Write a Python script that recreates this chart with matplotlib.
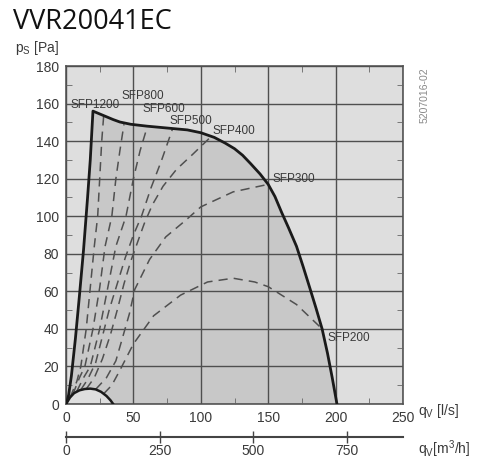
import matplotlib
matplotlib.use('Agg')
from matplotlib import pyplot as plt
from matplotlib.ticker import MultipleLocator

# fan curve, q in l/s, p in Pa
OUTER_Q = [0, 1, 2, 4, 7, 10, 13, 16, 18, 20, 25, 30, 35, 40, 48, 60, 75, 90, 100, 110,
           118, 125, 131, 137, 144, 150, 155, 160, 165, 171, 176, 181, 185.5, 190, 194,
           197.5, 201]
OUTER_P = [0, 2, 5, 15, 35, 58, 82, 110, 130, 156, 154.5, 153, 151.5, 150.2, 149, 148,
           147, 146, 144.5, 142, 139, 136, 132.5, 128, 122.5, 117, 110.5, 102, 94, 84, 73,
           61.5, 51, 40, 27, 14, 0]

ARC_Q = [0, 3, 6, 10, 14, 18, 22, 26, 30, 33, 35]
ARC_P = [0, 3.5, 5.8, 7.3, 8, 8.2, 7.8, 6.5, 4.3, 2, 0]

SFP_LINES = {
    'SFP800': ([3, 8, 11, 15, 18, 21, 23.5, 25, 26.5, 28],
               [3.5, 12, 20, 40, 62, 84, 100, 120, 140, 154]),
    'SFP700': ([5, 10, 14, 20, 25, 29, 34, 37, 40, 43],
               [5, 14, 20, 40, 62, 84, 100, 120, 135, 149]),
    'SFP600': ([8, 13, 18, 25, 31, 37, 44.5, 50, 55, 60],
               [6.8, 14, 20, 40, 62, 84, 100, 120, 135, 147]),
    'SFP500': ([11, 16, 22, 27, 32, 38, 44, 50, 56, 63, 71, 79],
               [7.6, 13, 22, 36, 50, 64, 78, 90, 100, 115, 130, 146.5]),
    'SFP400': ([15, 21, 27, 33, 38, 43, 48, 53, 58, 64, 72, 82, 94, 107],
               [8, 14, 24, 37, 50, 64, 76, 86, 96, 106, 116, 125, 133, 142]),
    'SFP300': ([22, 30, 37, 43, 47, 51, 62, 74, 89, 100, 124, 150],
               [7.8, 14, 23, 38, 48, 61, 77, 89, 98, 105, 113, 117]),
    'SFP200': ([28, 34, 40, 50, 65, 85, 105, 124, 140, 150, 171, 190],
               [5.5, 10, 18, 32, 47, 58, 65, 67, 65, 62.5, 53, 40]),
}

LABELS = ['SFP1200', 'SFP800', 'SFP600', 'SFP500', 'SFP400', 'SFP300', 'SFP200']
LABEL_Q = [3, 41.5, 56.5, 77, 109, 153, 194]
LABEL_P = [159, 164, 157, 150.7, 145.6, 120, 35]

M3H_TICKS = [0, 250, 500, 750]

LIGHT = '#dedede'
DARK = '#c8c8c8'
INK = '#3a3a3a'


def main():
    plt.rcParams['font.family'] = ['Liberation Sans', 'DejaVu Sans']
    fig = plt.figure(figsize=(5, 4.62), dpi=100)
    ax = fig.add_axes([0.132, 0.1255, 0.674, 0.7315])
    ax.set_facecolor(LIGHT)

    ax.fill(OUTER_Q, OUTER_P, color=DARK, zorder=1, lw=0)
    ax.fill(ARC_Q, ARC_P, color=LIGHT, zorder=1.1, lw=0)

    for name, (q, p) in SFP_LINES.items():
        ax.plot(q, p, color='#505050', lw=1.1, dashes=(6, 4), zorder=2)

    ax.plot(OUTER_Q, OUTER_P, color='#1a1a1a', lw=2, zorder=4, solid_joinstyle='round')
    ax.plot(ARC_Q, ARC_P, color='#1a1a1a', lw=1.8, zorder=4)

    for txt, q, p in zip(LABELS, LABEL_Q, LABEL_P):
        ax.text(q, p, txt, fontsize=8.5, color=INK, va='center', ha='left', zorder=5)

    ax.set_xlim(0, 250)
    ax.set_ylim(0, 180)
    ax.xaxis.set_major_locator(MultipleLocator(50))
    ax.yaxis.set_major_locator(MultipleLocator(20))
    ax.xaxis.set_minor_locator(MultipleLocator(25))
    ax.yaxis.set_minor_locator(MultipleLocator(10))
    ax.grid(True, which='major', color='#4f4f4f', lw=1.0)
    ax.set_axisbelow(False)
    ax.tick_params(which='major', length=0, labelsize=10, labelcolor=INK, pad=5)
    ax.tick_params(which='minor', direction='in', length=4, color='#666666',
                   top=True, right=True, bottom=True, left=True)
    for s in ax.spines.values():
        s.set_color('#555555')
        s.set_linewidth(1.2)

    sec = ax.secondary_xaxis(-0.0976, functions=(lambda x: x * 3.6, lambda x: x / 3.6))
    sec.set_xticks(M3H_TICKS)
    sec.tick_params(direction='inout', length=8, width=1, color='#444444',
                    labelsize=10, labelcolor=INK, pad=1)
    sec.spines['bottom'].set_color('#444444')
    sec.spines['bottom'].set_linewidth(1.5)

    fig.text(13 / 500, 1 - 22 / 462, 'VVR20041EC', fontsize=19.5, family='Open Sans',
             va='center', ha='left', color='#111111')
    fig.text(15 / 500, 1 - 48 / 462, r'$\mathregular{p_S}$ [Pa]', fontsize=10,
             color=INK, va='center', ha='left')
    fig.text(418 / 500, 1 - 411 / 462, r'$\mathregular{q_V}$ [l/s]', fontsize=10,
             color=INK, va='center', ha='left')
    fig.text(418 / 500, 1 - 449 / 462, r'$\mathregular{q_V [m^3/h]}$', fontsize=10,
             color=INK, va='center', ha='left')
    fig.text(425 / 500, 1 - 95 / 462, '5207016-02', fontsize=7.5, color='#888888',
             rotation=90, va='center', ha='center')

    fig.savefig('out.png', dpi=100, facecolor='white')


if __name__ == '__main__':
    main()
